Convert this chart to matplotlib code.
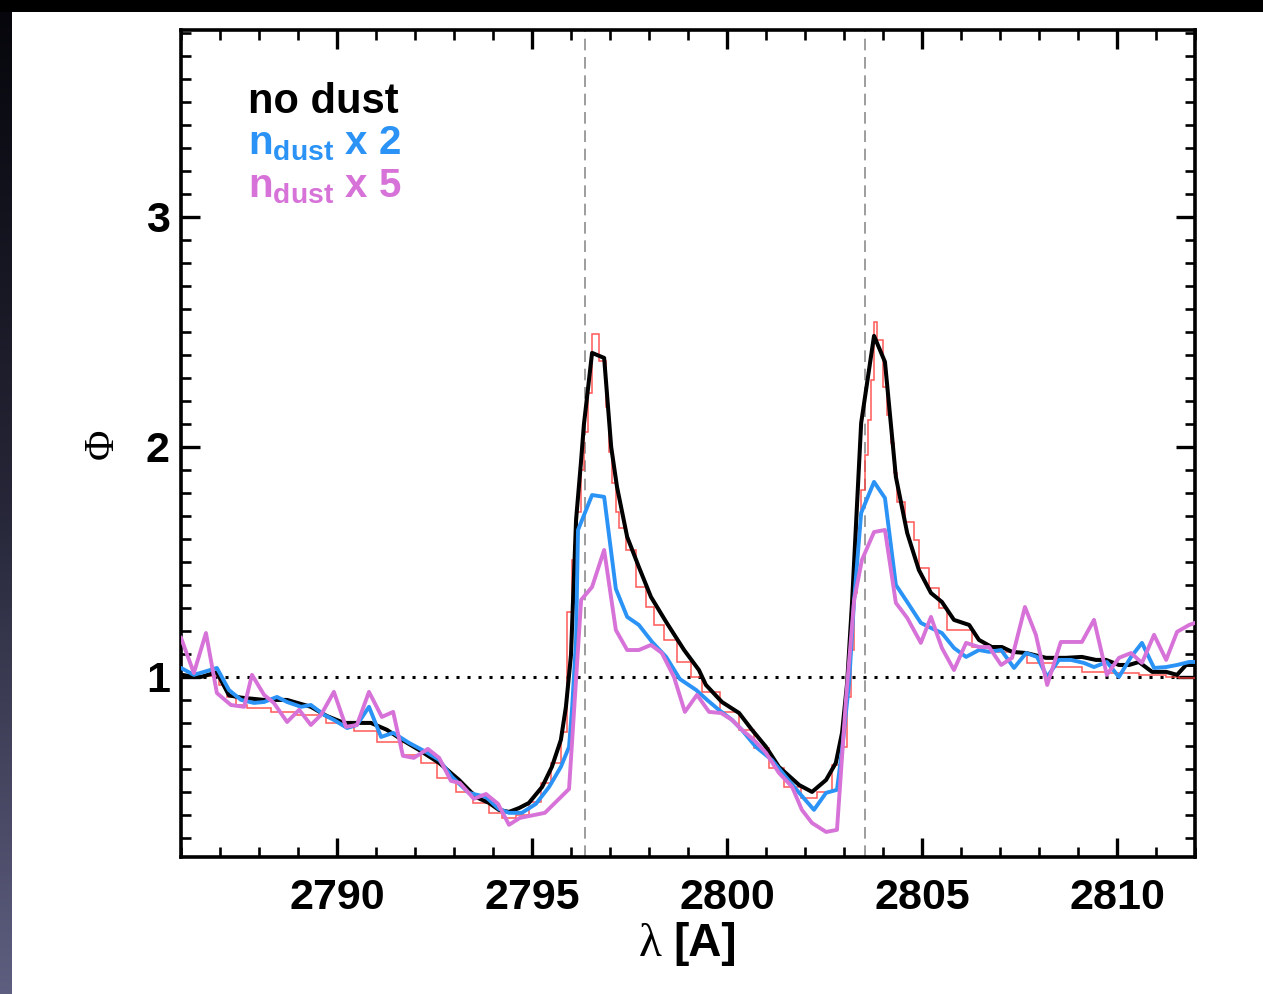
import numpy as np
import matplotlib.pyplot as plt
from matplotlib.ticker import MultipleLocator
from matplotlib.offsetbox import TextArea, HPacker, AnchoredOffsetbox
from matplotlib.patches import Rectangle
from matplotlib.colors import LinearSegmentedColormap

plt.rcParams['font.family'] = ['Liberation Sans', 'DejaVu Sans']
plt.rcParams['mathtext.fontset'] = 'custom'
plt.rcParams['mathtext.rm'] = 'Liberation Sans:bold'
plt.rcParams['mathtext.bf'] = 'Liberation Sans:bold'

# Mg II k and h rest wavelengths [A]
k_line = 2796.35
h_line = 2803.53

# no dust
black_wl = [2786.00, 2786.33, 2786.51, 2786.92, 2787.23, 2787.54, 2788.13, 2788.72,
            2789.33, 2789.74, 2790.18, 2790.51, 2790.87, 2791.28, 2791.67, 2792.10,
            2792.62, 2793.13, 2793.56, 2793.90, 2794.15, 2794.41, 2794.67, 2794.92,
            2795.26, 2795.51, 2795.74, 2795.87, 2796.00, 2796.13, 2796.26, 2796.33,
            2796.54, 2796.85, 2797.03, 2797.18, 2797.44, 2797.74, 2798.05, 2798.44,
            2798.90, 2799.28, 2799.46, 2799.87, 2800.31, 2800.64, 2801.00, 2801.33,
            2801.85, 2802.18, 2802.54, 2802.79, 2802.95, 2803.08, 2803.21, 2803.44,
            2803.77, 2804.05, 2804.33, 2804.62, 2804.92, 2805.23, 2805.51, 2805.82,
            2806.21, 2806.46, 2806.79, 2807.05, 2807.31, 2807.67, 2808.18, 2808.69,
            2809.10, 2809.46, 2809.72, 2810.05, 2810.31, 2810.56, 2810.90, 2811.26,
            2811.54, 2811.77, 2812.00]
black_phi = [1.010, 1.000, 1.000, 1.020, 0.920, 0.910, 0.900, 0.900,
             0.870, 0.830, 0.800, 0.800, 0.800, 0.770, 0.726, 0.683,
             0.626, 0.552, 0.478, 0.452, 0.422, 0.413, 0.430, 0.452,
             0.522, 0.609, 0.726, 0.870, 1.096, 1.683, 1.943, 2.096,
             2.409, 2.387, 2.000, 1.826, 1.609, 1.478, 1.348, 1.239,
             1.117, 1.030, 0.965, 0.891, 0.843, 0.770, 0.696, 0.609,
             0.530, 0.500, 0.552, 0.626, 0.757, 0.974, 1.335, 2.104,
             2.483, 2.370, 1.870, 1.626, 1.465, 1.365, 1.326, 1.248,
             1.226, 1.161, 1.130, 1.130, 1.109, 1.104, 1.083, 1.083,
             1.087, 1.074, 1.074, 1.052, 1.052, 1.065, 1.022, 1.022,
             1.009, 1.052, 1.052]

# n_dust x 2
blue_wl = [2786.00, 2786.33, 2786.67, 2786.92, 2787.23, 2787.54, 2787.87, 2788.13,
           2788.46, 2788.72, 2789.08, 2789.33, 2789.67, 2789.92, 2790.26, 2790.51,
           2790.82, 2791.13, 2791.44, 2791.85, 2792.28, 2792.62, 2792.95, 2793.38,
           2793.82, 2794.15, 2794.41, 2794.74, 2795.10, 2795.44, 2795.74, 2795.95,
           2796.03, 2796.13, 2796.18, 2796.54, 2796.85, 2797.15, 2797.44, 2797.74,
           2798.08, 2798.44, 2798.79, 2799.21, 2799.49, 2799.79, 2800.13, 2800.38,
           2800.74, 2801.15, 2801.51, 2801.85, 2802.23, 2802.54, 2802.82, 2802.95,
           2803.13, 2803.26, 2803.44, 2803.77, 2804.05, 2804.33, 2804.62, 2804.97,
           2805.23, 2805.51, 2805.82, 2806.13, 2806.46, 2806.72, 2807.03, 2807.36,
           2807.67, 2807.95, 2808.21, 2808.51, 2808.82, 2809.15, 2809.41, 2809.74,
           2810.05, 2810.36, 2810.64, 2810.95, 2811.26, 2811.54, 2811.85, 2812.00]
blue_phi = [1.039, 1.009, 1.026, 1.039, 0.943, 0.900, 0.887, 0.891,
            0.913, 0.891, 0.870, 0.878, 0.835, 0.813, 0.778, 0.791,
            0.870, 0.739, 0.757, 0.713, 0.674, 0.639, 0.565, 0.496,
            0.478, 0.426, 0.409, 0.409, 0.448, 0.522, 0.609, 0.696,
            0.870, 1.161, 1.639, 1.791, 1.783, 1.383, 1.261, 1.226,
            1.152, 1.087, 0.991, 0.943, 0.900, 0.857, 0.813, 0.770,
            0.696, 0.639, 0.565, 0.496, 0.422, 0.496, 0.509, 0.683,
            0.974, 1.335, 1.713, 1.848, 1.778, 1.400, 1.326, 1.235,
            1.213, 1.191, 1.126, 1.087, 1.117, 1.109, 1.117, 1.039,
            1.104, 1.087, 1.000, 1.074, 1.074, 1.061, 1.043, 1.065,
            1.000, 1.087, 1.148, 1.039, 1.043, 1.052, 1.065, 1.065]

# n_dust x 5
mag_wl = [2786.00, 2786.33, 2786.64, 2786.92, 2787.28, 2787.62, 2787.82, 2788.13,
          2788.38, 2788.72, 2789.03, 2789.33, 2789.59, 2789.92, 2790.23, 2790.51,
          2790.82, 2791.15, 2791.44, 2791.69, 2791.97, 2792.33, 2792.62, 2792.92,
          2793.15, 2793.51, 2793.82, 2794.13, 2794.41, 2794.69, 2795.33, 2795.95,
          2796.26, 2796.54, 2796.85, 2797.15, 2797.44, 2797.74, 2798.05, 2798.33,
          2798.64, 2798.92, 2799.23, 2799.54, 2799.85, 2800.13, 2800.38, 2800.69,
          2801.00, 2801.33, 2801.67, 2801.92, 2802.18, 2802.54, 2802.82, 2803.05,
          2803.26, 2803.46, 2803.77, 2804.05, 2804.33, 2804.62, 2804.97, 2805.23,
          2805.51, 2805.82, 2806.13, 2806.46, 2806.72, 2807.03, 2807.31, 2807.64,
          2807.92, 2808.21, 2808.56, 2808.85, 2809.10, 2809.41, 2809.74, 2810.05,
          2810.36, 2810.64, 2810.95, 2811.26, 2811.54, 2811.85, 2812.00]
mag_phi = [1.170, 1.017, 1.191, 0.930, 0.878, 0.870, 1.009, 0.922,
           0.887, 0.804, 0.857, 0.791, 0.835, 0.935, 0.783, 0.791,
           0.935, 0.826, 0.848, 0.657, 0.648, 0.687, 0.648, 0.548,
           0.539, 0.470, 0.491, 0.448, 0.357, 0.387, 0.409, 0.513,
           1.335, 1.391, 1.552, 1.204, 1.117, 1.117, 1.139, 1.104,
           1.000, 0.848, 0.922, 0.848, 0.843, 0.813, 0.770, 0.726,
           0.670, 0.583, 0.522, 0.422, 0.365, 0.326, 0.335, 0.900,
           1.335, 1.509, 1.630, 1.639, 1.322, 1.257, 1.148, 1.261,
           1.126, 1.030, 1.148, 1.130, 1.130, 1.052, 1.083, 1.304,
           1.183, 0.965, 1.152, 1.152, 1.152, 1.248, 1.009, 1.083,
           1.104, 1.061, 1.183, 1.074, 1.196, 1.226, 1.235]

# binned spectrum (histogram)
red_edges = [2786.00, 2786.97, 2787.18, 2787.41, 2787.69, 2788.31, 2788.97, 2789.72,
             2790.44, 2791.03, 2791.67, 2792.15, 2792.56, 2793.05, 2793.49, 2793.90,
             2794.23, 2794.59, 2794.92, 2795.23, 2795.49, 2795.74, 2795.90, 2796.03,
             2796.15, 2796.26, 2796.33, 2796.44, 2796.54, 2796.72, 2796.90, 2796.97,
             2797.05, 2797.15, 2797.23, 2797.41, 2797.67, 2797.92, 2798.13, 2798.38,
             2798.72, 2799.08, 2799.36, 2799.82, 2800.31, 2800.69, 2801.08, 2801.46,
             2801.90, 2802.31, 2802.69, 2802.95, 2803.08, 2803.18, 2803.26, 2803.33,
             2803.44, 2803.54, 2803.62, 2803.69, 2803.77, 2803.85, 2804.00, 2804.10,
             2804.21, 2804.28, 2804.36, 2804.56, 2804.79, 2804.92, 2805.18, 2805.44,
             2805.64, 2806.28, 2806.92, 2807.69, 2808.44, 2809.10, 2809.79, 2810.56,
             2811.26, 2811.59, 2812.00]
red_phi = [1.004, 0.965, 0.913, 0.878, 0.865, 0.848, 0.835, 0.800,
           0.765, 0.717, 0.661, 0.626, 0.561, 0.500, 0.452, 0.409,
           0.387, 0.400, 0.457, 0.539, 0.626, 0.761, 1.283, 1.509,
           1.717, 1.900, 2.065, 2.235, 2.491, 2.374, 2.174, 1.978,
           1.843, 1.717, 1.648, 1.552, 1.391, 1.304, 1.226, 1.161,
           1.065, 1.000, 0.935, 0.848, 0.770, 0.691, 0.604, 0.522,
           0.474, 0.500, 0.617, 0.696, 0.913, 1.117, 1.365, 1.648,
           1.813, 1.965, 2.117, 2.291, 2.543, 2.465, 2.261, 2.139,
           2.017, 1.887, 1.761, 1.674, 1.596, 1.474, 1.387, 1.300,
           1.204, 1.130, 1.109, 1.061, 1.043, 1.022, 1.017, 1.009,
           1.000, 0.996]

fig = plt.figure(figsize=(12.63, 9.94), dpi=100)
fig.patch.set_facecolor('white')

# dark slide border: black top band, shaded left band
fig.add_artist(Rectangle((0, 1 - 12 / 994), 1, 12 / 994, transform=fig.transFigure,
                         facecolor='black', edgecolor='none'))
gax = fig.add_axes([0, 0, 12 / 1263, 1 - 12 / 994])
edge_cmap = LinearSegmentedColormap.from_list('edge', ['#06060c', '#262638', '#5e5e80'])
gax.imshow(np.linspace(0, 1, 256)[:, None], aspect='auto', cmap=edge_cmap)
gax.axis('off')

ax = fig.add_axes([181 / 1263, 1 - 857 / 994, (1195 - 181) / 1263, (857 - 30) / 994])

ax.axvline(k_line, color='#8c8c8c', lw=1.2, dashes=(7, 4), zorder=1)
ax.axvline(h_line, color='#8c8c8c', lw=1.2, dashes=(7, 4), zorder=1)
ax.axhline(1.0, color='black', lw=2.2, dashes=(1, 2.6), zorder=2)

ax.stairs(red_phi, red_edges, baseline=None, color='#ff3b3b', lw=1.1, alpha=0.85, zorder=3)
ax.plot(black_wl, black_phi, color='black', lw=2.9, zorder=4)
ax.plot(blue_wl, blue_phi, color='#2a93f5', lw=2.8, zorder=5)
ax.plot(mag_wl, mag_phi, color='#d672d8', lw=2.8, zorder=6)

ax.set_xlim(2786, 2812)
ax.set_ylim(0.217, 3.813)
ax.xaxis.set_major_locator(MultipleLocator(5))
ax.xaxis.set_minor_locator(MultipleLocator(1))
ax.yaxis.set_major_locator(MultipleLocator(1))
ax.yaxis.set_minor_locator(MultipleLocator(0.1))
ax.tick_params(which='both', direction='in', top=True, right=True)
ax.tick_params(which='major', length=14, width=2.4, labelsize=31, pad=15)
ax.tick_params(which='minor', length=7, width=1.9)
ax.tick_params(axis='y', which='major', pad=8)
for lab in ax.get_xticklabels() + ax.get_yticklabels():
    lab.set_fontweight('bold')
for sp in ax.spines.values():
    sp.set_linewidth(2.6)

# axis labels
ax.set_ylabel('Φ', family=['Liberation Serif', 'DejaVu Serif'], fontsize=30, rotation=90)
ax.yaxis.set_label_coords(-0.058, 0.5)
lam = TextArea('λ', textprops=dict(family=['Liberation Serif', 'DejaVu Serif'], size=34))
unit = TextArea('[A]', textprops=dict(weight='bold', size=33))
xlab = HPacker(children=[lam, unit], align='baseline', pad=0, sep=8)
ax.add_artist(AnchoredOffsetbox(loc='upper center', child=xlab, pad=0, borderpad=0,
                                bbox_to_anchor=(0.5, -0.078), bbox_transform=ax.transAxes,
                                frameon=False))

# legend as coloured text
ax.text(0.066, 0.900, 'no dust', transform=ax.transAxes, color='black',
        fontsize=30, fontweight='bold', va='baseline')
ax.text(0.066, 0.849, r'n$_{\mathbf{dust}}$ x 2', transform=ax.transAxes, color='#2a93f5',
        fontsize=29, fontweight='bold', va='baseline')
ax.text(0.066, 0.798, r'n$_{\mathbf{dust}}$ x 5', transform=ax.transAxes, color='#d672d8',
        fontsize=29, fontweight='bold', va='baseline')

fig.savefig('out.png', dpi=100)
